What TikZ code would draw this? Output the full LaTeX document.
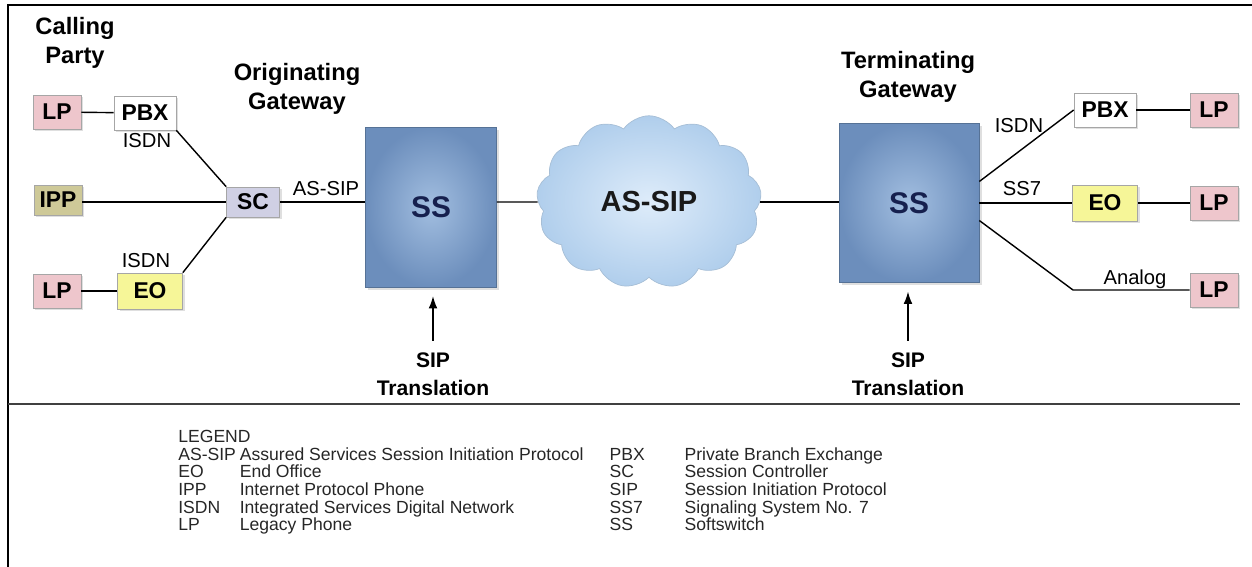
\documentclass[tikz,border=0pt]{standalone}
\usepackage{fontspec}
\setmainfont{Liberation Sans}
\usepackage{array}
\usetikzlibrary{arrows.meta,positioning,shapes,shadows}

\definecolor{lppink}{RGB}{238,198,204}
\definecolor{ippolive}{RGB}{206,201,152}
\definecolor{sclav}{RGB}{208,208,228}
\definecolor{eoyel}{RGB}{246,246,152}
\definecolor{ssout}{RGB}{108,142,188}
\definecolor{ssin}{RGB}{162,190,224}
\definecolor{sstext}{RGB}{22,32,78}
\definecolor{cloudin}{RGB}{222,236,250}
\definecolor{cloudout}{RGB}{176,206,236}

\tikzset{
  unit/.style={draw=gray!70,inner sep=2pt,font=\fontsize{13}{15}\selectfont\bfseries,
    drop shadow={opacity=.25,shadow xshift=1.2pt,shadow yshift=-1.2pt}},
  lp/.style={unit,fill=lppink,minimum width=.96cm,minimum height=.68cm},
  pbx/.style={unit,fill=white,minimum width=1.24cm,minimum height=.68cm},
  ipp/.style={unit,fill=ippolive,minimum width=.96cm,minimum height=.6cm},
  sc/.style={unit,fill=sclav,minimum width=1.06cm,minimum height=.6cm},
  eo/.style={unit,fill=eoyel,minimum width=1.3cm,minimum height=.72cm},
  ss/.style={draw=ssout!80!black,inner color=ssin,outer color=ssout,text=sstext,
    font=\fontsize{17}{19}\selectfont\bfseries,
    drop shadow={opacity=.25,shadow xshift=1.5pt,shadow yshift=-1.5pt}},
  title/.style={align=center,font=\fontsize{13.5}{16.5}\selectfont\bfseries},
  lbl/.style={inner sep=1pt,font=\fontsize{11.5}{13}\selectfont},
  xlat/.style={align=center,font=\fontsize{12}{16}\selectfont\bfseries},
  link/.style={line width=.8pt},
  sigarrow/.style={-{Latex[length=7pt,width=5pt]},line width=.8pt},
}

\begin{document}
\begin{tikzpicture}[x=0.02cm,y=-0.02cm]
\useasboundingbox (0,0) rectangle (1252,567);
% frame and separator
\draw[line width=1.2pt] (1252,5) -| (8,567);
\draw[line width=1pt,black!75] (8,404) -- (1240,404);

% calling party side
\node[title] (calling) at (75,43) {Calling\\Party};
\node[lp] (lpA) at (57,112) {LP};
\node[pbx] (pbxA) at (145,113) {PBX};
\node[lbl] (isdnA) at (147,141) {ISDN};
\node[ipp] (ipp) at (58,200) {IPP};
\node[sc] (sc) at (253,202) {SC};
\node[lbl] (isdnB) at (146,261) {ISDN};
\node[lp] (lpB) at (57,291) {LP};
\node[eo] (eoA) at (150,291) {EO};
\node[title] (orig) at (297,89) {Originating\\Gateway};

\draw[link] (lpA) -- (pbxA);
\draw[link] (pbxA.south east) -- (sc.north west);
\draw[link] (ipp.east |- sc) -- (sc.west);
\draw[link] (eoA.north east) -- (sc.south west);
\draw[link] (lpB) -- (eoA);

% originating softswitch and network
\node[ss,minimum width=2.62cm,minimum height=3.2cm] (ssA) at (431,207) {SS};
\node[lbl] (assipA) at (326,189) {AS-SIP};
\draw[link] (sc.east) -- (sc.east -| ssA.west);
\node[cloud,cloud puffs=13,cloud puff arc=110,aspect=1.3,minimum width=4.5cm,
  minimum height=3.45cm,inner sep=0pt,draw=cloudout!80!gray,inner color=cloudin,
  outer color=cloudout,text=black!90,font=\fontsize{16.5}{18}\selectfont\bfseries] (net) at (649,202) {AS-SIP};
\draw[link] (ssA.east |- net) -- (net.west);

% terminating side
\node[ss,minimum width=2.8cm,minimum height=3.18cm] (ssB) at (909,203) {SS};
\node[title] (term) at (908,77) {Terminating\\Gateway};
\draw[link] (net.east) -- (net.east -| ssB.west);

\node[pbx] (pbxB) at (1105,110) {PBX};
\node[lp] (lpC) at (1214,110) {LP};
\node[eo] (eoB) at (1105,203) {EO};
\node[lp] (lpD) at (1214,203) {LP};
\node[lp] (lpE) at (1214,290) {LP};
\coordinate (bend) at (1073,290);
\node[lbl] (isdnC) at (1019,126) {ISDN};
\node[lbl] (ss7) at (1022,189) {SS7};
\node[lbl] (analog) at (1135,279) {Analog};

\draw[link] (ssB.17) -- (pbxB.west);
\draw[link] (pbxB) -- (lpC);
\draw[link] (ssB.east |- eoB) -- (eoB.west);
\draw[link] (eoB) -- (lpD);
\draw[link] (ssB.-14) -- (bend) -- (lpE.west);

% translation arrows
\node[xlat] (xlatA) at (433,374) {SIP\\Translation};
\node[xlat] (xlatB) at (908,374) {SIP\\Translation};
\draw[sigarrow,shorten >=5pt,shorten <=3pt] (xlatA.north) -- (xlatA.north |- ssA.south);
\draw[sigarrow,shorten >=5pt,shorten <=3pt] (xlatB.north) -- (xlatB.north |- ssB.south);

% legend
\node[anchor=north west,inner sep=0pt,text=black!85,font=\fontsize{10}{9.3}\selectfont] (legend) at (178,430) {%
\begin{tabular}{@{}p{35pt}@{}p{210.5pt}@{}p{42.7pt}@{}l@{}}
\multicolumn{4}{@{}l}{LEGEND}\\
AS-SIP & Assured Services Session Initiation Protocol & PBX & Private Branch Exchange\\
EO & End Office & SC & Session Controller\\
IPP & Internet Protocol Phone & SIP & Session Initiation Protocol\\
ISDN & Integrated Services Digital Network & SS7 & Signaling System No. 7\\
LP & Legacy Phone & SS & Softswitch
\end{tabular}};
\end{tikzpicture}
\end{document}
